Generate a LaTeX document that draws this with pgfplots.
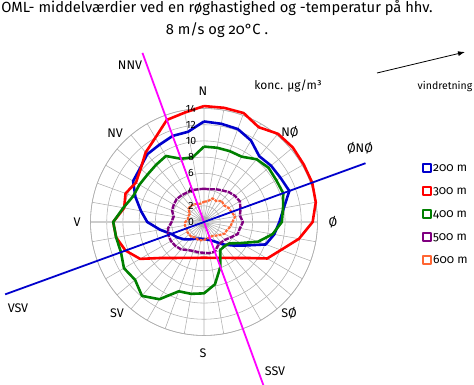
\documentclass[border=0pt]{standalone}
\usepackage{fontspec}
\setmainfont{Fira Sans}[Numbers=OldStyle]
\usepackage{pgfplots}
\pgfplotsset{compat=1.18}
\usepackage{pgfplotstable}
\usepgfplotslibrary{polar}
\usetikzlibrary{arrows.meta}

\definecolor{cblue}{RGB}{0,0,204}
\definecolor{cred}{RGB}{255,0,0}
\definecolor{cgreen}{RGB}{0,128,0}
\definecolor{cpurple}{RGB}{128,0,128}
\definecolor{corange}{RGB}{255,102,51}
\definecolor{cmag}{RGB}{255,0,255}
\definecolor{gridgray}{RGB}{175,175,175}
\definecolor{axgray}{RGB}{205,205,205}

\pgfplotstableread{
a   b    r    g    p    o
0   12.4 14.3 9.3  4.1  2.5
10  12.3 14.3 9.3  4.1  2.6
20  12.2 14.3 9.3  4.3  3.1
30  11.6 13.5 9.3  4.5  3.0
40  10.6 14.2 10.1 4.8  3.4
50  10.8 14.3 10.4 5.0  3.2
60  10.9 14.2 10.3 5.1  3.5
70  11.2 14.2 10.4 4.8  3.6
80  10.0 14.0 9.9  4.5  3.9
90  9.3  13.4 9.6  4.8  3.5
100 8.8  11.9 8.6  4.5  3.3
110 8.1  10.1 7.1  4.4  3.0
120 5.8  9.0  5.2  3.8  2.9
130 4.5  6.9  4.1  3.4  2.5
140 3.6  5.8  3.9  3.3  2.2
150 2.8  5.1  4.0  3.4  2.0
160 2.4  4.7  5.9  3.9  2.0
170 2.2  4.5  7.8  3.9  2.1
180 2.1  4.4  8.8  3.8  2.2
190 2.1  4.5  9.0  3.8  2.3
200 2.2  4.7  9.1  3.8  2.3
210 2.4  5.1  11.0 4.0  2.2
220 2.8  5.8  11.9 4.4  2.4
230 3.3  6.9  11.1 4.6  2.4
240 3.8  9.1  11.4 4.7  2.4
250 4.3  10.3 10.9 4.7  2.3
260 5.5  11.0 11.0 4.5  2.4
270 7.0  11.2 11.2 4.0  2.3
280 7.9  10.0 10.1 3.8  2.0
290 9.0  10.3 9.3  4.2  2.1
300 10.1 9.7  9.2  4.3  2.0
310 10.3 10.2 9.1  4.4  2.5
320 10.9 11.2 9.2  4.3  2.6
330 11.0 12.0 9.4  4.2  2.5
340 11.3 13.4 8.3  4.2  2.4
350 11.3 13.7 8.1  4.1  2.3
360 12.4 14.3 9.3  4.1  2.5
}\data

\begin{document}
\begin{tikzpicture}
\path[use as bounding box] (0pt,0pt) rectangle (474pt,385pt);
\begin{polaraxis}[
  at={(204pt,163pt)}, anchor=origin,
  scale only axis, width=227pt, height=227pt,
  xmin=0, xmax=360, ymin=0, ymax=14,
  xtick={0,10,...,350}, ytick={2,4,...,14},
  xticklabels={}, yticklabels={},
  xticklabel style={opacity=0}, yticklabel style={opacity=0},
  grid=major, grid style={draw=gridgray, line width=0.55pt},
  axis line style={draw=gridgray, line width=0.6pt},
  major tick length=0pt,
  clip=false,
  legend style={at={(axis description cs:1.46,0.762)}, anchor=north west,
    draw=none, fill=none, font=\fontsize{12}{14}\selectfont,
    row sep=10pt, inner sep=0pt,
    nodes={inner sep=1pt, text height=8pt, text depth=3pt}},
  legend cell align=left,
  legend image code/.code={\draw[solid, line width=2.2pt, fill=white] (1.1pt,-2.9pt) rectangle (8.9pt,4.9pt);},
]
\draw[axgray, line width=2pt] (axis cs:0,14) -- (axis cs:180,14);
\addplot[cblue, line width=2.6pt, line join=round, mark=none] table[x expr=90-\thisrow{a}, y=b] {\data};
\addlegendentry{200 m}
\addplot[cred, line width=2.6pt, line join=round, mark=none] table[x expr=90-\thisrow{a}, y=r] {\data};
\addlegendentry{300 m}
\addplot[cgreen, line width=2.6pt, line join=round, mark=none] table[x expr=90-\thisrow{a}, y=g] {\data};
\addlegendentry{400 m}
\addplot[cpurple, line width=2.4pt, line join=round, mark=none, dash pattern=on 5pt off 1pt] table[x expr=90-\thisrow{a}, y=p] {\data};
\addlegendentry{500 m}
\addplot[corange, line width=2.2pt, line join=round, mark=none, dash pattern=on 3pt off 1pt] table[x expr=90-\thisrow{a}, y=o] {\data};
\addlegendentry{600 m}
\pgfplotsinvokeforeach{0,2,4,6,8,10,12,14}{
  \node[font=\fontsize{10.5}{12}\selectfont\addfontfeature{Numbers=Lining}, inner sep=0pt] at (axis cs:90,#1) [xshift=-13pt] {#1};
}
\draw[cmag, line width=1.8pt] (axis cs:110,22.2) -- (axis cs:-70,21.4);
\draw[cblue, line width=1.8pt] (axis cs:20,21.2) -- (axis cs:200,26.1);
\end{polaraxis}
\node[font=\fontsize{14.7}{17}\selectfont] at (217pt,377pt) {OML- middelværdier ved en røghastighed og -temperatur på hhv.};
\node[font=\fontsize{14.7}{17}\selectfont] at (217pt,355pt) {8 m/s og 20°C .};
\node[font=\fontsize{12}{14}\selectfont] at (288pt,299pt) {konc. µg/m³};
\node[font=\fontsize{10.5}{12}\selectfont] at (445pt,298pt) {vindretning};
\draw[-{Latex[length=7pt,width=5pt]}, line width=0.8pt] (377pt,312pt) -- (465pt,333pt);
\begin{scope}[every node/.style={font=\fontsize{12.5}{14}\selectfont}]
\node at (203pt,294pt) {N};
\node at (290pt,253pt) {NØ};
\node at (333pt,163pt) {Ø};
\node at (289pt,72pt) {SØ};
\node at (203pt,32pt) {S};
\node at (117pt,72pt) {SV};
\node at (77pt,163pt) {V};
\node at (115pt,252pt) {NV};
\node at (130pt,320pt) {NNV};
\node at (360pt,237pt) {ØNØ};
\node at (275pt,14pt) {SSV};
\node at (18pt,77pt) {VSV};
\end{scope}
\end{tikzpicture}
\end{document}
